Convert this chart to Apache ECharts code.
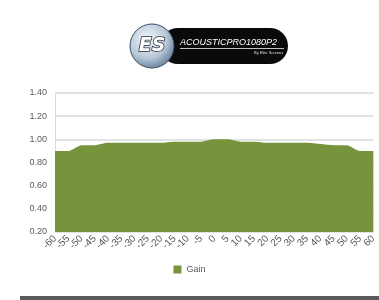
<!DOCTYPE html>
<html>
<head>
<meta charset="utf-8">
<script src="https://cdn.jsdelivr.net/npm/echarts@6/dist/echarts.min.js"></script>
<style>html,body{margin:0;padding:0;background:#fff}#c{width:379px;height:300px}</style>
</head>
<body>
<div id="c"></div>
<script>
const categories = ['-60','-55','-50','-45','-40','-35','-30','-25','-20','-15','-10','-5','0','5','10','15','20','25','30','35','40','45','50','55','60'];
const gain = [0.90,0.90,0.95,0.95,0.97,0.97,0.97,0.97,0.97,0.98,0.98,0.98,1.00,1.00,0.98,0.98,0.97,0.97,0.97,0.97,0.96,0.95,0.95,0.90,0.90];
const seriesName = 'Gain';
const yMin = 0.2, yMax = 1.4, yStep = 0.2;

const chart = echarts.init(document.getElementById('c'), null, {renderer: 'canvas'});
chart.setOption({
  animation: false,
  backgroundColor: '#fff',
  grid: {left: 55, right: 2, top: 93, bottom: 68},
  legend: {
    data: [seriesName], bottom: 21, left: 'center', itemWidth: 8, itemHeight: 8, itemGap: 4,
    icon: 'rect', textStyle: {fontSize: 9, color: '#595959', fontFamily: 'Liberation Sans'}
  },
  xAxis: {
    type: 'category', data: categories, boundaryGap: false,
    axisLine: {show: false}, axisTick: {show: false},
    axisLabel: {rotate: 45, fontSize: 10, color: '#595959', margin: 5, interval: 0, fontFamily: 'Liberation Sans'}
  },
  yAxis: {
    type: 'value', min: yMin, max: yMax, interval: yStep,
    axisLine: {show: true, lineStyle: {color: '#d9d9d9', width: 1}},
    axisTick: {show: false},
    axisLabel: {fontSize: 9, color: '#595959', margin: 8, formatter: v => v.toFixed(2), fontFamily: 'Liberation Sans'},
    splitLine: {lineStyle: {color: '#d9d9d9', width: 1.5}}
  },
  series: [{
    name: seriesName, type: 'line', data: gain, smooth: 0.2, symbol: 'none',
    lineStyle: {width: 0, color: '#77933c'},
    itemStyle: {color: '#77933c'},
    areaStyle: {color: '#77933c', opacity: 1}
  }],
  graphic: [
    {type: 'rect', shape: {x: 160, y: 28, width: 128, height: 36, r: 18}, style: {fill: '#0a0a0a'}},
    {type: 'text', style: {x: 180, y: 38, text: 'ACOUSTICPRO1080P2', fill: '#ffffff', font: 'italic 9px "Liberation Sans"'}},
    {type: 'rect', shape: {x: 180, y: 48, width: 104, height: 0.8}, style: {fill: '#ffffff'}},
    {type: 'text', style: {x: 254, y: 51, text: 'By Elite Screens', fill: '#dddddd', font: '4px "Liberation Sans"'}},
    {type: 'circle', shape: {cx: 152, cy: 46, r: 22},
      style: {fill: {type: 'radial', x: 0.4, y: 0.35, r: 0.7, colorStops: [{offset: 0, color: '#f4f7fa'}, {offset: 0.6, color: '#b8c8d8'}, {offset: 1, color: '#5f7a96'}]},
        stroke: '#3c4f66', lineWidth: 1}},
    {type: 'text', style: {x: 152, y: 46, text: 'ES', align: 'center', verticalAlign: 'middle', fill: '#ffffff', stroke: '#1e2a3a', lineWidth: 1.5, font: 'italic bold 19px "DejaVu Sans"'}},
    {type: 'rect', shape: {x: 20, y: 296, width: 359, height: 6}, style: {fill: '#5a5a5a'}}
  ]
});
</script>
</body>
</html>
